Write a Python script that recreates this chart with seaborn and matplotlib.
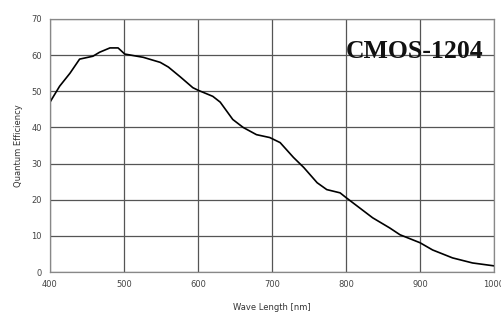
import pandas as pd
import matplotlib.pyplot as plt
import seaborn as sns

# Quantum efficiency curve
wavelength = [400, 413, 427, 440, 458, 467, 481, 492, 501, 526, 549, 560, 576, 593, 600,
              620, 630, 647, 661, 679, 697, 711, 729, 743, 761, 774, 792, 800, 818, 836,
              859, 873, 900, 917, 944, 971, 1000]
efficiency = [47.0, 51.4, 55.0, 58.9, 59.7, 60.8, 62.0, 62.0, 60.3, 59.4, 58.0, 56.7, 54.0,
              51.0, 50.3, 48.6, 47.0, 42.2, 40.0, 38.0, 37.2, 35.8, 31.7, 28.9, 24.7, 22.8,
              21.9, 20.6, 17.8, 15.0, 12.2, 10.3, 8.1, 6.1, 3.9, 2.5, 1.7]
x_ticks = [400, 500, 600, 700, 800, 900, 1000]
y_ticks = [0, 10, 20, 30, 40, 50, 60, 70]

df = pd.DataFrame({"wave": wavelength, "qe": efficiency})

sns.set_theme(style="white")
fig = plt.figure(figsize=(5.02, 3.14), dpi=100)
ax = fig.add_axes([50 / 502, 1 - 272 / 314, 444 / 502, 253 / 314])

sns.lineplot(data=df, x="wave", y="qe", color="black", linewidth=1.2, ax=ax)

ax.set_xlim(400, 1000)
ax.set_ylim(0, 70)
ax.set_xticks(x_ticks)
ax.set_yticks(y_ticks)
ax.grid(True, color="#555555", linewidth=0.9)
for s in ax.spines.values():
    s.set_color("#888888")
    s.set_linewidth(0.9)
ax.tick_params(axis="both", length=0, labelsize=6, colors="#444444", pad=6)

ax.set_xlabel("Wave Length [nm]", fontsize=6, color="#333333", labelpad=10)
ax.set_ylabel("Quantum Efficiency", fontsize=6, color="#333333", labelpad=6)

ax.text(415 / 502, 1 - 51 / 314, "CMOS-1204", transform=fig.transFigure,
        ha="center", va="center", fontsize=18.5, fontweight="bold",
        family="Liberation Serif", color="#111111")

fig.savefig("out.png", dpi=100)
